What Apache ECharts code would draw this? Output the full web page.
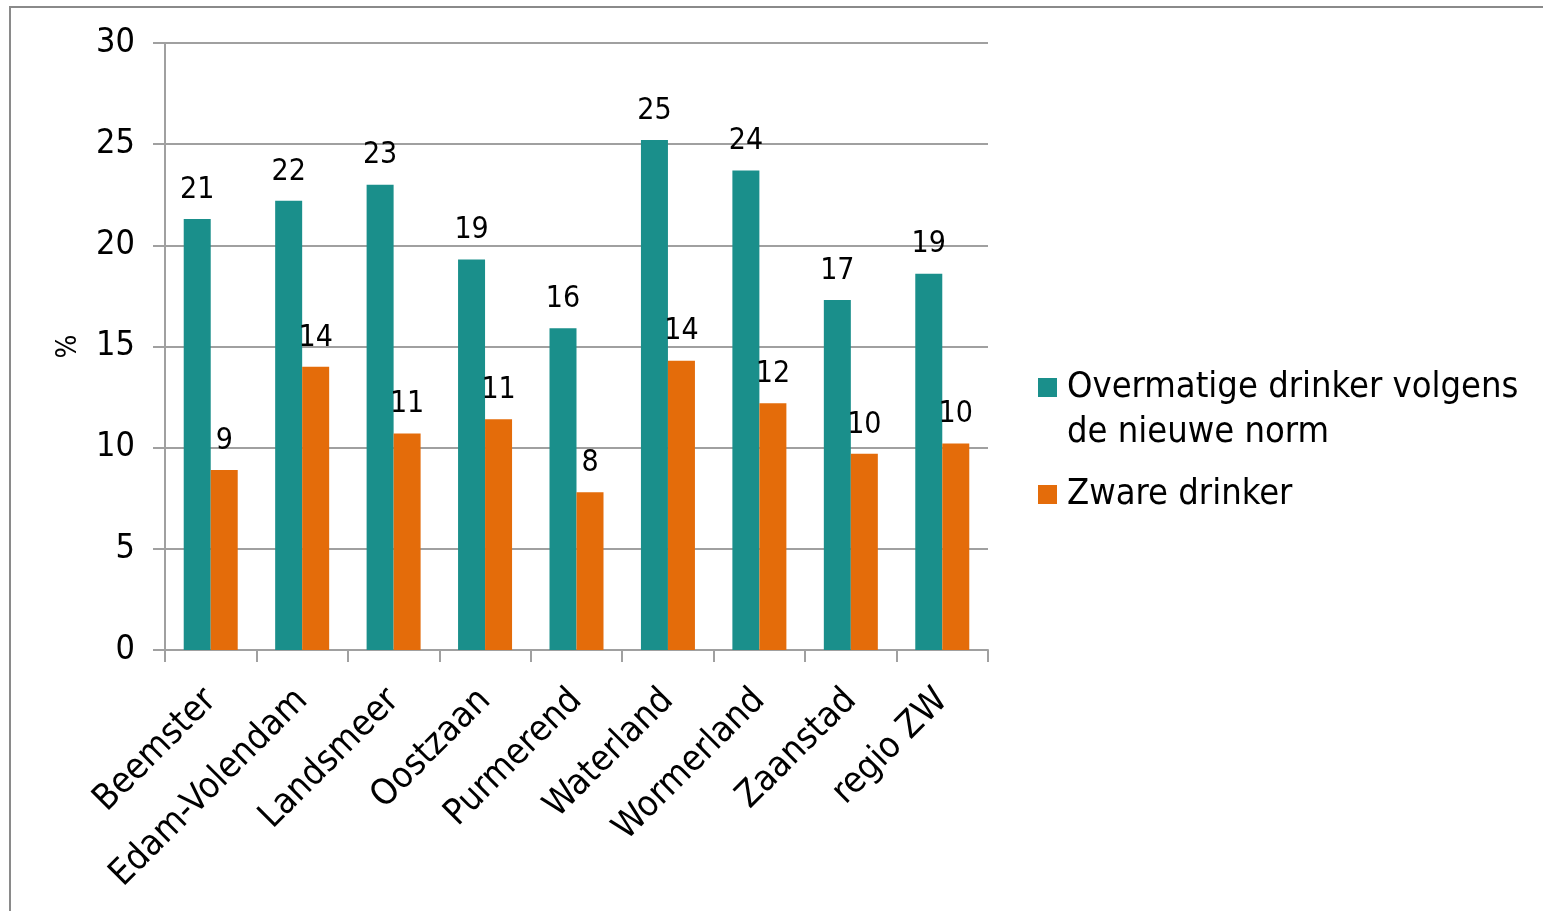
<!DOCTYPE html>
<html>
<head>
<meta charset="utf-8">
<script src="https://cdn.jsdelivr.net/npm/echarts@6/dist/echarts.min.js"></script>
<style>
html,body{margin:0;padding:0;background:#fff;}
#c{width:1543px;height:911px;}
#frame{position:absolute;left:9px;top:6px;width:1560px;height:930px;border-top:2px solid #8a8a8a;border-left:2px solid #8a8a8a;pointer-events:none;}
</style>
</head>
<body>
<div id="c"></div>
<div id="frame"></div>
<script>
const categories = ['Beemster','Edam-Volendam','Landsmeer','Oostzaan','Purmerend','Waterland','Wormerland','Zaanstad','regio ZW'];
const seriesNames = ['Overmatige drinker volgens\nde nieuwe norm','Zware drinker'];
const overmatig = [21.3, 22.2, 23.0, 19.3, 15.9, 25.2, 23.7, 17.3, 18.6];
const zwaar = [8.9, 14.0, 10.7, 11.4, 7.8, 14.3, 12.2, 9.7, 10.2];
const yTicks = {min: 0, max: 30, interval: 5};

const FONT = '"DejaVu Sans Condensed", "DejaVu Sans", sans-serif';
const chart = echarts.init(document.getElementById('c'));
const lbl = {
  show: true, position: 'top', distance: 14,
  fontFamily: FONT, fontSize: 30, color: '#000',
  formatter: p => Math.round(p.value)
};
const legendText = {fontFamily: FONT, fontSize: 36, color: '#000', lineHeight: 45, padding: [0, 0, 0, 5]};
chart.setOption({
  animation: false,
  textStyle: {fontFamily: FONT},
  grid: {left: 165, right: 555, top: 43, bottom: 261, containLabel: false},
  legend: [{
    orient: 'vertical', left: 1038, top: 320, padding: 0,
    itemWidth: 19, itemHeight: 19, icon: 'rect',
    data: [seriesNames[0]],
    formatter: n => '\n' + n,
    textStyle: legendText
  }, {
    orient: 'vertical', left: 1038, top: 472, padding: 0,
    itemWidth: 19, itemHeight: 19, icon: 'rect',
    data: [seriesNames[1]],
    textStyle: legendText
  }],
  xAxis: {
    type: 'category', data: categories,
    axisLine: {lineStyle: {color: '#a0a0a0', width: 2}},
    axisTick: {show: true, length: 12, interval: 0, lineStyle: {color: '#a0a0a0', width: 2}},
    axisLabel: {interval: 0, rotate: 45, margin: 45, fontFamily: FONT, fontSize: 36, color: '#000'}
  },
  yAxis: {
    type: 'value', min: yTicks.min, max: yTicks.max, interval: yTicks.interval,
    name: '%', nameLocation: 'middle', nameGap: 82, nameRotate: 90,
    nameTextStyle: {fontFamily: FONT, fontSize: 28, color: '#000'},
    axisLine: {show: true, lineStyle: {color: '#a0a0a0', width: 2}},
    axisTick: {show: true, length: 12, lineStyle: {color: '#a0a0a0', width: 2}},
    axisLabel: {margin: 30, fontFamily: FONT, fontSize: 34, color: '#000'},
    splitLine: {show: true, lineStyle: {color: '#a0a0a0', width: 2}}
  },
  series: [{
    name: seriesNames[0], type: 'bar', data: overmatig, barWidth: 27, barGap: '0%',
    itemStyle: {color: '#1a8f8b'}, label: lbl
  }, {
    name: seriesNames[1], type: 'bar', data: zwaar, barWidth: 27, barGap: '0%',
    itemStyle: {color: '#e46c0a'}, label: lbl
  }]
});
</script>
</body>
</html>
